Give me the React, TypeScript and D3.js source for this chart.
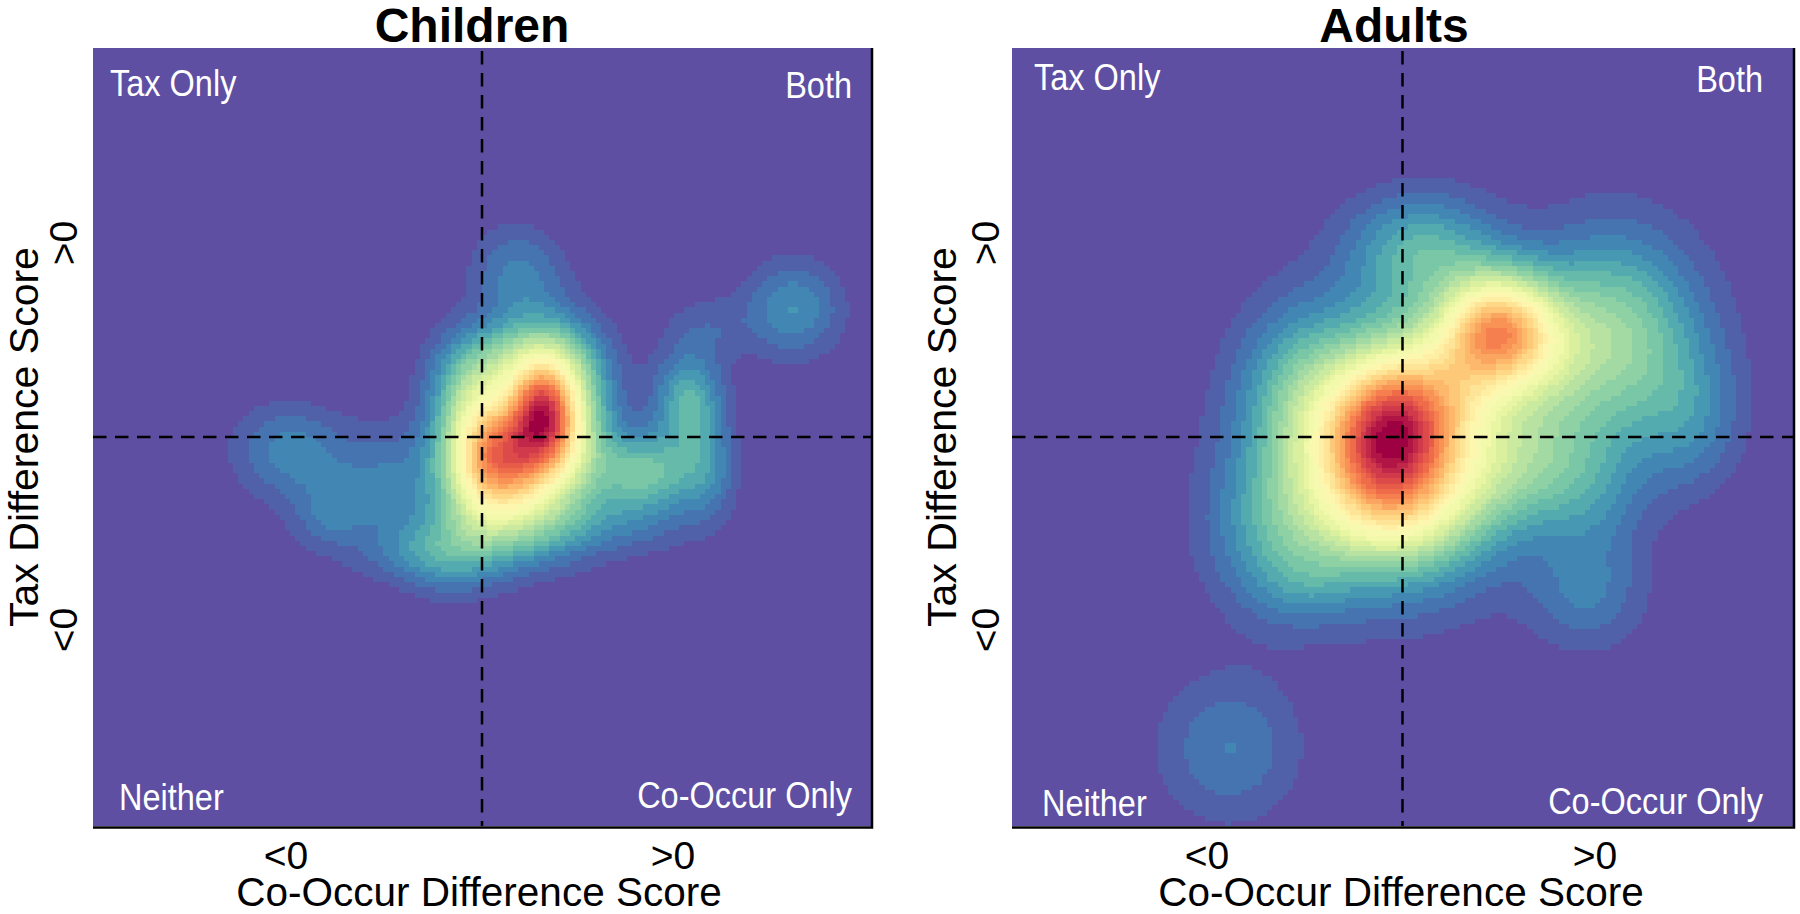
import React, { useMemo } from "react";
import * as d3 from "d3";

// Density lobes: x, y (difference scores scaled to -1..1), spreadX, spreadY, height
const childrenLobes: number[][] = [
  [0.17, 0.07, 0.09, 0.13, 0.55],
  [0.01, -0.07, 0.08, 0.1, 0.44],
  [0.12, -0.05, 0.1, 0.09, 0.32],
  [0.155, 0.07, 0.05, 0.07, 0.24],
  [-0.03, 0.1, 0.07, 0.1, 0.22],
  [0.1, 0.2, 0.12, 0.07, 0.13],
  [0.09, 0.42, 0.08, 0.085, 0.1],
  [0.8, 0.33, 0.085, 0.085, 0.125],
  [0.53, 0.09, 0.06, 0.085, 0.19],
  [0.42, -0.09, 0.095, 0.07, 0.22],
  [0.58, -0.08, 0.05, 0.09, 0.09],
  [0.35, -0.22, 0.14, 0.06, 0.07],
  [-0.5, -0.03, 0.1, 0.08, 0.1],
  [-0.39, -0.2, 0.05, 0.05, 0.04],
  [-0.36, -0.17, 0.11, 0.1, 0.07],
  [-0.22, -0.1, 0.09, 0.1, 0.065],
  [-0.2, -0.3, 0.08, 0.05, 0.05],
  [-0.08, -0.3, 0.09, 0.07, 0.13],
  [0.08, -0.22, 0.13, 0.08, 0.2],
  [0.58, 0.28, 0.08, 0.06, 0.05],
];
const adultLobes: number[][] = [
  [-0.035, 0.01, 0.1, 0.12, 0.34],
  [-0.03, -0.03, 0.19, 0.2, 0.62],
  [0.24, 0.28, 0.1, 0.1, 0.55],
  [0.12, 0.14, 0.11, 0.11, 0.15],
  [0.35, 0.2, 0.1, 0.12, 0.13],
  [0.54, 0.25, 0.15, 0.18, 0.28],
  [0.05, 0.48, 0.13, 0.1, 0.18],
  [-0.28, 0.14, 0.1, 0.15, 0.09],
  [-0.33, -0.25, 0.12, 0.14, 0.12],
  [-0.25, -0.38, 0.09, 0.07, 0.05],
  [-0.02, -0.2, 0.14, 0.1, 0.12],
  [0.35, -0.08, 0.15, 0.11, 0.17],
  [0.47, -0.4, 0.105, 0.1, 0.095],
  [0.5, -0.2, 0.09, 0.1, 0.045],
  [0.74, 0.05, 0.09, 0.13, 0.09],
  [-0.444, -0.8, 0.125, 0.13, 0.0945],
];
const spectralStops = ["#5e4fa2", "#3288bd", "#66c2a5", "#abdda4", "#e6f598", "#ffffbf", "#fee08b", "#fdae61", "#f46d43", "#d53e4f", "#9e0142"];
const panelTitles = ["Children", "Adults"];
const xTickLabels = ["<0", ">0"];
const yTickLabels = ["<0", ">0"];
const quadrantLabels = ["Tax Only", "Both", "Neither", "Co-Occur Only"];

const GRID = 150;
const FONT = "'Liberation Sans', Arial, sans-serif";
const palette = d3.quantize(d3.interpolateRgbBasis(spectralStops), 32);
const color = d3.scaleQuantize<string>().domain([0, 1]).range(palette);

type Layout = {
  x0: number; x1: number; xTicks: number[]; yLabelX: number; yTickX: number; xLabelC: number;
  quad: [number, number][];
};
const TOP = 48, BOTTOM = 826;
const layouts: Layout[] = [
  { x0: 93, x1: 871, xTicks: [286, 673], yLabelX: 38, yTickX: 63, xLabelC: 479,
    quad: [[110, 96], [852, 98], [119, 810], [852, 808]] },
  { x0: 1012, x1: 1793, xTicks: [1207, 1595], yLabelX: 956, yTickX: 985, xLabelC: 1401,
    quad: [[1034, 90], [1763, 92], [1042, 816], [1763, 814]] },
];

function Panel({ lobes, title, l }: { lobes: number[][]; title: string; l: Layout }) {
  const x = d3.scaleLinear().domain([-1, 1]).range([l.x0, l.x1]);
  const y = d3.scaleLinear().domain([-1, 1]).range([BOTTOM, TOP]);
  const rects = useMemo(() => {
    const step = 2 / GRID;
    const out: { c: string; a: number; b: number; r: number }[] = [];
    for (let r = 0; r < GRID; r++) {
      const v = -1 + (r + 0.5) * step;
      let start = 0, cur = "";
      for (let i = 0; i <= GRID; i++) {
        let c = "";
        if (i < GRID) {
          const u = -1 + (i + 0.5) * step;
          const d = d3.sum(lobes, ([mx, my, sx, sy, w]) =>
            w * Math.exp(-((u - mx) ** 2) / (2 * sx * sx) - ((v - my) ** 2) / (2 * sy * sy)));
          c = color(Math.min(1, d));
        }
        if (i === 0) cur = c;
        else if (c !== cur) {
          out.push({ c: cur, a: start, b: i, r });
          start = i; cur = c;
        }
      }
    }
    return out;
  }, [lobes]);
  const step = 2 / GRID;
  const stretch = (px: number, py: number, sy: number) => `translate(${px},${py}) scale(1,${sy})`;
  return (
    <g fontFamily={FONT}>
      <rect x={l.x0} y={TOP} width={l.x1 - l.x0} height={BOTTOM - TOP} fill={spectralStops[0]} />
      <g shapeRendering="crispEdges">
        {rects.filter((d) => d.c !== palette[0]).map((d, i) => (
          <rect key={i} x={x(-1 + d.a * step)} width={x(-1 + d.b * step) - x(-1 + d.a * step)}
            y={y(-1 + (d.r + 1) * step)} height={y(-1 + d.r * step) - y(-1 + (d.r + 1) * step)} fill={d.c} />
        ))}
      </g>
      <line x1={x(0)} x2={x(0)} y1={TOP + 3} y2={BOTTOM} stroke="#000" strokeWidth={2.5} strokeDasharray="13.5 8.5" />
      <line x1={l.x0} x2={l.x1} y1={y(0)} y2={y(0)} stroke="#000" strokeWidth={2.5} strokeDasharray="13.5 8.5" />
      <path d={`M${l.x1 + 1},${TOP}V${BOTTOM + 1.5}H${l.x0}`} fill="none" stroke="#000" strokeWidth={2.5} />
      <text x={l.xLabelC - 7} y={42} textAnchor="middle" fontWeight="bold" fontSize={48} fill="#000">{title}</text>
      {quadrantLabels.map((q, i) => (
        <text key={q} transform={stretch(l.quad[i][0], l.quad[i][1], 1.12)} textAnchor={i % 2 ? "end" : "start"}
          fontSize={32.5} fill="#fff">{q}</text>
      ))}
      {xTickLabels.map((t, i) => (
        <text key={t} x={l.xTicks[i]} y={869} textAnchor="middle" fontSize={39} fill="#000">{t}</text>
      ))}
      <text x={l.xLabelC} y={906} textAnchor="middle" fontSize={40.5} fill="#000">Co-Occur Difference Score</text>
      <text transform={`translate(${l.yLabelX},${y(0)}) rotate(-90)`} textAnchor="middle" fontSize={41} fill="#000">Tax Difference Score</text>
      {yTickLabels.map((t, i) => (
        <text key={t} transform={`translate(${l.yTickX + 14},${i ? 243 : 630}) rotate(-90)`} textAnchor="middle"
          fontSize={39} fill="#000">{t}</text>
      ))}
    </g>
  );
}

export default function App() {
  return (
    <svg width={1800} height={914} style={{ position: "absolute", left: 0, top: 0, background: "#fff" }}>
      <Panel lobes={childrenLobes} title={panelTitles[0]} l={layouts[0]} />
      <Panel lobes={adultLobes} title={panelTitles[1]} l={layouts[1]} />
    </svg>
  );
}
